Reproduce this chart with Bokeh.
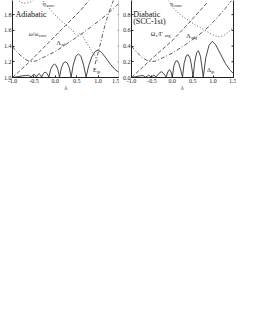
import math
from bokeh.plotting import figure
from bokeh.layouts import row
from bokeh.models import Label, LinearAxis, FixedTicker, Range1d
from bokeh.embed import file_html
from bokeh.resources import INLINE

# ---------------- data ----------------
x_ticks = [-1.0, -0.5, 0.0, 0.5, 1.0, 1.5]
x_tick_labels = ["-1.0", "-0.5", "0.0", "0.5", "1.0", "1.5"]
adi_y_ticks = [1.0, 1.2, 1.4, 1.6, 1.8]
adi_y_tick_labels = ["1.0", "1.2", "1.4", "1.6", "1.8"]
dia_y_ticks = [0.0, 0.2, 0.4, 0.6, 0.8]
dia_y_tick_labels = ["0.0", "0.2", "0.4", "0.6", "0.8"]

# Adiabatic panel
adi_solid_lam = [-1.00, -0.90, -0.80, -0.70, -0.62, -0.56, -0.53, -0.50, -0.47, -0.44,
                 -0.41, -0.38, -0.35, -0.32, -0.28, -0.24, -0.19, -0.15, -0.11, -0.06,
                 -0.02, 0.02, 0.06, 0.10, 0.14, 0.19, 0.23, 0.28, 0.33, 0.37,
                 0.42, 0.48, 0.54, 0.60, 0.66, 0.72, 0.78, 0.85, 0.93, 1.00,
                 1.08, 1.18, 1.30, 1.40, 1.50]
adi_solid_val = [1.000, 1.008, 1.018, 1.025, 1.028, 1.005, 1.030, 1.040, 1.030, 1.005,
                 1.035, 1.050, 1.035, 1.005, 1.050, 1.070, 1.050, 1.005, 1.100, 1.155,
                 1.170, 1.155, 1.100, 1.005, 1.120, 1.185, 1.200, 1.185, 1.120, 1.005,
                 1.160, 1.270, 1.300, 1.270, 1.160, 1.005, 1.150, 1.260, 1.330, 1.350,
                 1.320, 1.250, 1.160, 1.100, 1.060]
adi_omega_lam = [-1.0, -0.6, -0.2, 0.2, 0.6, 0.8]
adi_omega_val = [1.00, 1.20, 1.42, 1.64, 1.86, 1.99]
adi_lambda_lam = [-1.0, -0.85, -0.7, -0.58, -0.45, -0.3, 0.0, 0.3, 0.6, 0.9, 1.2, 1.5]
adi_lambda_val = [1.39, 1.30, 1.23, 1.20, 1.21, 1.25, 1.33, 1.44, 1.55, 1.67, 1.80, 1.95]
adi_eta_lam = [-0.32, -0.2, -0.05, 0.1, 0.27, 0.40, 0.47, 0.52, 0.57, 0.62, 0.70, 0.80, 0.90, 0.97, 1.02]
adi_eta_val = [2.00, 1.92, 1.82, 1.74, 1.66, 1.60, 1.55, 1.53, 1.56, 1.55, 1.47, 1.38, 1.30, 1.23, 1.19]
adi_f_lam = [0.93, 0.97, 1.02, 1.06, 1.12, 1.18, 1.26, 1.37]
adi_f_val = [1.17, 1.25, 1.36, 1.44, 1.58, 1.70, 1.84, 2.00]
adi_top_lam = [-0.9, -0.8, -0.7, -0.6, -0.5]
adi_top_val = [2.00, 1.955, 1.945, 1.955, 1.99]

# Diabatic panel
dia_solid_lam = [-1.00, -0.90, -0.80, -0.72, -0.65, -0.58, -0.52, -0.45, -0.40, -0.33,
                 -0.27, -0.21, -0.15, -0.11, -0.07, -0.03, 0.00, 0.04, 0.08, 0.12,
                 0.16, 0.21, 0.25, 0.29, 0.34, 0.39, 0.44, 0.48, 0.51, 0.55,
                 0.60, 0.64, 0.69, 0.73, 0.76, 0.82, 0.90, 0.98, 1.06, 1.18,
                 1.30, 1.42, 1.50]
dia_solid_val = [0.000, 0.010, 0.020, 0.025, 0.005, 0.030, 0.005, 0.030, 0.005, 0.050,
                 0.075, 0.050, 0.005, 0.070, 0.100, 0.070, 0.005, 0.150, 0.205, 0.215,
                 0.180, 0.090, 0.005, 0.180, 0.275, 0.290, 0.240, 0.120, 0.005, 0.200,
                 0.320, 0.340, 0.270, 0.120, 0.005, 0.250, 0.410, 0.460, 0.420, 0.300,
                 0.180, 0.090, 0.050]
dia_omega_lam = [-1.0, -0.5, 0.0, 0.4, 0.85]
dia_omega_val = [0.00, 0.24, 0.47, 0.69, 0.95]
dia_lambda_lam = [-1.0, -0.85, -0.7, -0.55, -0.4, -0.2, 0.0, 0.3, 0.6, 0.9, 1.1, 1.3, 1.45]
dia_lambda_val = [0.40, 0.31, 0.24, 0.20, 0.21, 0.26, 0.31, 0.41, 0.52, 0.65, 0.76, 0.88, 0.98]
dia_eta_lam = [-0.1, 0.0, 0.15, 0.3, 0.5, 0.7, 0.9, 1.05, 1.15, 1.25, 1.35, 1.5]
dia_eta_val = [0.98, 0.90, 0.82, 0.76, 0.69, 0.63, 0.57, 0.53, 0.52, 0.53, 0.57, 0.64]

SERIF = "Liberation Serif"
INK = "#333333"
AX = "#222222"


def make_fig(width, yr, yticks, ylabels, right_color, right_width, min_left, min_right):
    p = figure(width=width, height=94, x_range=Range1d(-1.0, 1.5), y_range=Range1d(*yr),
               output_backend="svg", toolbar_location=None,
               min_border_left=min_left, min_border_right=min_right,
               min_border_top=0, min_border_bottom=0)
    p.outline_line_color = None
    p.grid.visible = False
    p.background_fill_color = "white"
    p.border_fill_color = "white"
    xa = p.xaxis[0]
    xa.ticker = FixedTicker(ticks=x_ticks)
    xa.major_label_overrides = dict(zip(x_ticks, x_tick_labels))
    xa.axis_label = "λ"
    xa.axis_label_text_font = SERIF
    xa.axis_label_text_font_style = "normal"
    xa.axis_label_text_font_size = "7px"
    xa.axis_label_standoff = -2
    ya = p.yaxis[0]
    ya.ticker = FixedTicker(ticks=yticks)
    ya.major_label_overrides = dict(zip(yticks, ylabels))
    for ax in (xa, ya):
        ax.major_label_text_font = SERIF
        ax.major_label_text_font_size = "6px"
        ax.major_label_standoff = 1
        ax.major_tick_in = 2
        ax.major_tick_out = 0
        ax.minor_tick_line_color = None
        ax.axis_line_color = AX
        ax.major_tick_line_color = AX
        ax.major_label_text_color = AX
    # right frame border: a bare axis line, with inward ticks drawn from the tick list
    ra = LinearAxis(ticker=FixedTicker(ticks=[]), major_tick_line_color=None,
                    minor_tick_line_color=None, axis_line_color=right_color,
                    axis_line_width=right_width)
    p.add_layout(ra, "right")
    p.ray(x=[x_ticks[-1]] * len(yticks), y=yticks, length=2, length_units="screen",
          angle=math.pi, line_color=right_color, line_width=1)
    return p


def sublabel(p, x, y, main, sub, size=6, sub_dx=0):
    p.add_layout(Label(x=x, y=y, text=main, text_font=SERIF, text_font_size=f"{size}px",
                       text_color=AX, text_baseline="middle"))
    p.add_layout(Label(x=x, y=y, x_offset=sub_dx, y_offset=-1.5, text=sub, text_font=SERIF,
                       text_font_size=f"{size - 2}px", text_color=AX, text_baseline="middle"))


# ---------------- adiabatic ----------------
p1 = make_fig(119, (1.0, 1.98), adi_y_ticks, adi_y_tick_labels, "#999999", 2, 4, 0)
p1.line(adi_solid_lam, adi_solid_val, line_color=INK, line_width=0.9)
p1.line(adi_omega_lam, adi_omega_val, line_color=INK, line_width=0.8, line_dash="4 2")
p1.line(adi_lambda_lam, adi_lambda_val, line_color=INK, line_width=0.8, line_dash="4 2 1 2")
p1.line(adi_eta_lam, adi_eta_val, line_color=INK, line_width=0.8, line_dash="1 2")
p1.line(adi_f_lam, adi_f_val, line_color=INK, line_width=0.8, line_dash="4 2 1 2")
p1.line(adi_top_lam, adi_top_val, line_color=INK, line_width=0.8, line_dash="1 2")
p1.add_layout(Label(x=-0.93, y=1.80, text="Adiabatic", text_font=SERIF, text_font_size="8px",
                    text_color="#111111", text_baseline="middle"))
sublabel(p1, -0.62, 1.55, "ω/ω", "conv", sub_dx=10)
sublabel(p1, 0.03, 1.44, "Λ", "ad", sub_dx=5)
sublabel(p1, 0.88, 1.10, "E", "ge", sub_dx=4)
sublabel(p1, -0.30, 1.93, "η", "conv", sub_dx=4)

# ---------------- diabatic ----------------
p2 = make_fig(117, (0.0, 0.98), dia_y_ticks, dia_y_tick_labels, AX, 1, 0, 3)
p2.line(dia_solid_lam, dia_solid_val, line_color=INK, line_width=0.9)
p2.line(dia_omega_lam, dia_omega_val, line_color=INK, line_width=0.8, line_dash="4 2")
p2.line(dia_lambda_lam, dia_lambda_val, line_color=INK, line_width=0.8, line_dash="4 2 1 2")
p2.line(dia_eta_lam, dia_eta_val, line_color=INK, line_width=0.8, line_dash="1 2")
p2.add_layout(Label(x=-0.96, y=0.80, text="Diabatic", text_font=SERIF, text_font_size="8px",
                    text_color="#111111", text_baseline="middle"))
p2.add_layout(Label(x=-0.96, y=0.71, text="(SCC-1st)", text_font=SERIF, text_font_size="8px",
                    text_color="#111111", text_baseline="middle"))
sublabel(p2, -0.53, 0.55, "Ω", "s", sub_dx=5)
p2.add_layout(Label(x=-0.53, y=0.55, x_offset=7, text="/Γ", text_font=SERIF, text_font_size="6px",
                    text_color=AX, text_baseline="middle"))
p2.add_layout(Label(x=-0.53, y=0.55, x_offset=14, y_offset=-1.5, text="ang", text_font=SERIF,
                    text_font_size="4px", text_color=AX, text_baseline="middle"))
sublabel(p2, 0.34, 0.53, "Λ", "adg", sub_dx=5)
sublabel(p2, 0.85, 0.10, "Δ", "ge", sub_dx=4)
sublabel(p2, -0.05, 0.93, "η", "conv", sub_dx=4)

layout = row(p1, p2, spacing=0)
open("out.html", "w").write(file_html(layout, INLINE))
